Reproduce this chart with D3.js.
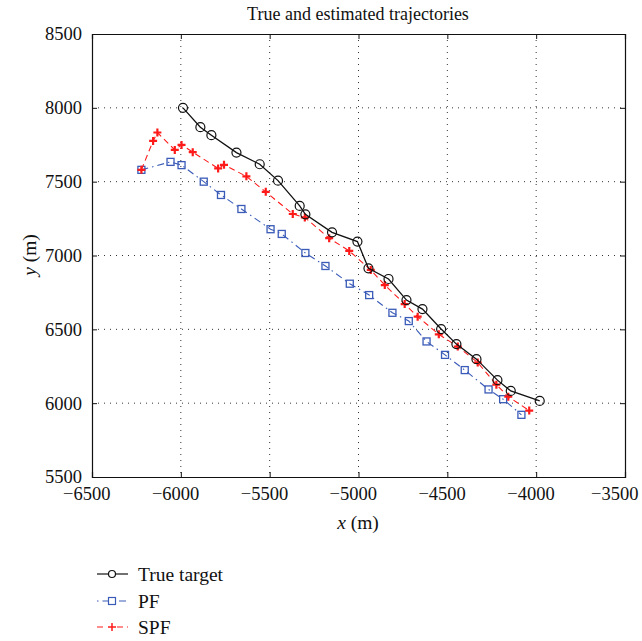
<!DOCTYPE html>
<html>
<head>
<meta charset="utf-8">
<script src="https://cdn.jsdelivr.net/npm/d3@7"></script>
<style>
  body { margin: 0; background: #fff; }
  text { font-family: "Liberation Serif", "DejaVu Serif", serif; fill: #111; }
</style>
</head>
<body>
<svg id="chart"></svg>
<script>
// data
const trueX = [-5988, -5890, -5828, -5687, -5556, -5453, -5331, -5299, -5149, -5006,
               -4944, -4831, -4730, -4640, -4535, -4449, -4336, -4218, -4143, -3980];
const trueY = [8000, 7869, 7815, 7697, 7618, 7507, 7336, 7279, 7157, 7094,
               6913, 6841, 6698, 6637, 6502, 6400, 6298, 6156, 6083, 6015];

const pfX = [-6222, -6058, -5996, -5871, -5774, -5659, -5495, -5432, -5299, -5186,
             -5049, -4940, -4809, -4717, -4617, -4513, -4402, -4268, -4186, -4083];
const pfY = [7580, 7634, 7612, 7500, 7410, 7315, 7178, 7146, 7017, 6929,
             6809, 6732, 6612, 6556, 6418, 6327, 6224, 6093, 6027, 5921];

const spfX = [-6222, -6156, -6132, -6034, -5996, -5933, -5790, -5757, -5631, -5522,
              -5370, -5302, -5165, -5052, -4931, -4852, -4740, -4667, -4548, -4441,
              -4329, -4224, -4157, -4039];
const spfY = [7580, 7776, 7833, 7715, 7749, 7700, 7590, 7614, 7536, 7431,
              7281, 7258, 7117, 7031, 6902, 6800, 6671, 6586, 6466, 6383,
              6275, 6125, 6044, 5950];

const xTicks = [-6500, -6000, -5500, -5000, -4500, -4000, -3500];
const yTicks = [5500, 6000, 6500, 7000, 7500, 8000, 8500];

const W = 642, H = 641;
const margin = {top: 34, right: 17, bottom: 164, left: 92};
const width = W - margin.left - margin.right;
const height = H - margin.top - margin.bottom;

const x = d3.scaleLinear().domain([-6500, -3500]).range([0, width]);
const y = d3.scaleLinear().domain([5500, 8500]).range([height, 0]);

const svg = d3.select("#chart").attr("width", W).attr("height", H);
const g = svg.append("g").attr("transform", `translate(${margin.left},${margin.top})`);

// dotted grid
g.append("g").selectAll("line").data(xTicks.slice(1, -1)).join("line")
  .attr("x1", d => x(d)).attr("x2", d => x(d))
  .attr("y1", 0).attr("y2", height)
  .attr("stroke", "#333").attr("stroke-width", 1).attr("stroke-dasharray", "1,5");
g.append("g").selectAll("line").data(yTicks.slice(1, -1)).join("line")
  .attr("y1", d => y(d)).attr("y2", d => y(d))
  .attr("x1", 0).attr("x2", width)
  .attr("stroke", "#333").attr("stroke-width", 1).attr("stroke-dasharray", "1,5");

// axes (ticks inward, box all round)
const fmt = d => d < 0 ? "\u2212" + Math.abs(d) : String(d);
const xAxis = g.append("g").attr("transform", `translate(0,${height})`)
  .call(d3.axisBottom(x).tickValues(xTicks).tickSize(-5).tickPadding(10).tickFormat(fmt));
const yAxis = g.append("g")
  .call(d3.axisLeft(y).tickValues(yTicks).tickSize(-5).tickPadding(10).tickFormat(fmt));
g.append("g").call(d3.axisTop(x).tickValues(xTicks).tickSize(-5).tickFormat(""));
g.append("g").attr("transform", `translate(${width},0)`)
  .call(d3.axisRight(y).tickValues(yTicks).tickSize(-5).tickFormat(""));

g.selectAll(".domain").attr("stroke", "#111").attr("stroke-width", 1.2);
g.selectAll(".tick line").attr("stroke", "#111");
xAxis.selectAll("text").attr("font-size", 18.5).attr("text-anchor", "end")
  .attr("dx", d => d === -3500 ? 13 : 18);
yAxis.selectAll("text").attr("font-size", 18.5);

// title and axis labels
svg.append("text").attr("x", 358).attr("y", 20).attr("text-anchor", "middle")
  .attr("font-size", 18).text("True and estimated trajectories");

const xl = svg.append("text").attr("x", 358).attr("y", 529).attr("text-anchor", "middle")
  .attr("font-size", 19.5);
xl.append("tspan").attr("font-style", "italic").text("x");
xl.append("tspan").text(" (m)");

const yl = svg.append("text").attr("transform", `translate(36,255) rotate(-90)`)
  .attr("text-anchor", "middle").attr("font-size", 19.5);
yl.append("tspan").attr("font-style", "italic").text("y");
yl.append("tspan").text(" (m)");

const line = d3.line().x(d => x(d[0])).y(d => y(d[1]));
const trueData = d3.zip(trueX, trueY);
const pfData = d3.zip(pfX, pfY);
const spfData = d3.zip(spfX, spfY);

const blue = "#3a5bb8", red = "#ff1a1a";

// PF
g.append("path").datum(pfData).attr("d", line).attr("fill", "none")
  .attr("stroke", blue).attr("stroke-width", 1.1).attr("stroke-dasharray", "7,4,1.5,4");
g.append("g").selectAll("rect").data(pfData).join("rect")
  .attr("x", d => x(d[0]) - 3.5).attr("y", d => y(d[1]) - 3.5)
  .attr("width", 7).attr("height", 7)
  .attr("fill", "none").attr("stroke", blue).attr("stroke-width", 1.3);

// SPF
g.append("path").datum(spfData).attr("d", line).attr("fill", "none")
  .attr("stroke", red).attr("stroke-width", 1.1).attr("stroke-dasharray", "6,4");
g.append("g").selectAll("path").data(spfData).join("path")
  .attr("transform", d => `translate(${x(d[0])},${y(d[1])})`)
  .attr("d", "M-4,0H4M0,-4V4")
  .attr("stroke", red).attr("stroke-width", 2.2);

// true target
g.append("path").datum(trueData).attr("d", line).attr("fill", "none")
  .attr("stroke", "#111").attr("stroke-width", 1.3);
g.append("g").selectAll("circle").data(trueData).join("circle")
  .attr("cx", d => x(d[0])).attr("cy", d => y(d[1])).attr("r", 4.5)
  .attr("fill", "none").attr("stroke", "#111").attr("stroke-width", 1.2);

// legend
const legend = svg.append("g").attr("transform", "translate(92,0)");
const rows = [
  {name: "True target", color: "#111", dash: null, mark: "circle", yy: 574},
  {name: "PF", color: blue, dash: "1.5,4,7,4", mark: "rect", yy: 601},
  {name: "SPF", color: red, dash: "6,4", mark: "plus", yy: 627}
];
rows.forEach(r => {
  const row = legend.append("g").attr("transform", `translate(0,${r.yy})`);
  row.append("line").attr("x1", 5).attr("x2", 36).attr("y1", 0).attr("y2", 0)
    .attr("stroke", r.color).attr("stroke-width", 1.2)
    .attr("stroke-dasharray", r.dash);
  if (r.mark === "circle") {
    row.append("circle").attr("cx", 20).attr("cy", 0).attr("r", 3.5)
      .attr("fill", "#fff").attr("stroke", r.color).attr("stroke-width", 1.2);
  } else if (r.mark === "rect") {
    row.append("rect").attr("x", 16.5).attr("y", -3.5).attr("width", 7).attr("height", 7)
      .attr("fill", "#fff").attr("stroke", r.color).attr("stroke-width", 1.2);
  } else {
    row.append("rect").attr("x", 15).attr("y", -4).attr("width", 10).attr("height", 8).attr("fill", "#fff");
    row.append("path").attr("d", "M16,0H24M20,-4V4").attr("stroke", r.color).attr("stroke-width", 1.5);
  }
  row.append("text").attr("x", 46).attr("y", 6.5).attr("font-size", 19.5).text(r.name);
});
</script>
</body>
</html>
